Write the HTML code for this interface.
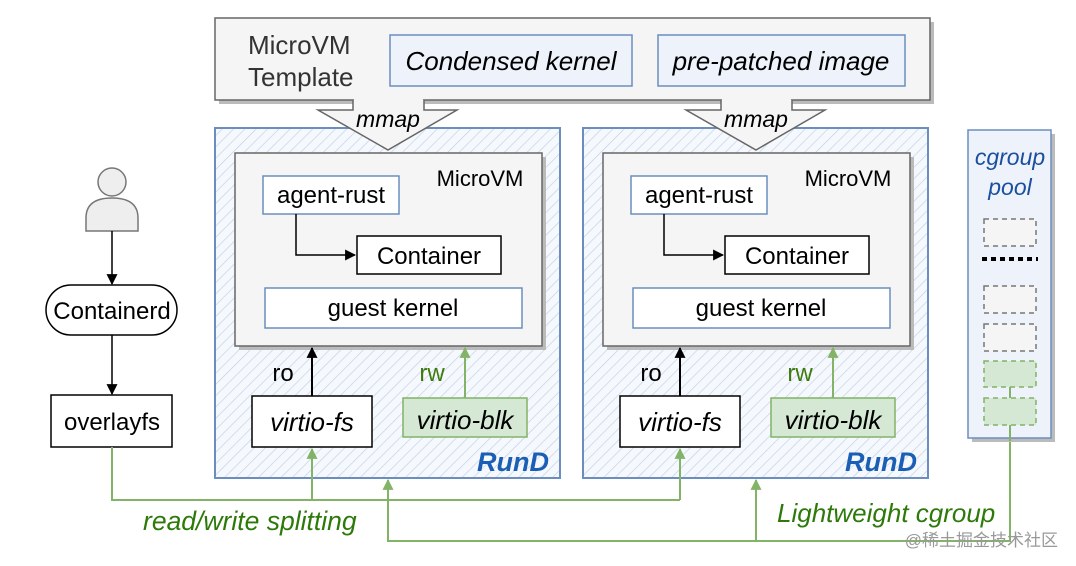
<!DOCTYPE html>
<html><head><meta charset="utf-8"><style>
html,body{margin:0;padding:0;background:#fff;}
svg{display:block;font-family:"Liberation Sans","Noto Sans CJK SC",sans-serif;}
</style></head><body>
<svg width="1076" height="566" viewBox="0 0 1076 566" xmlns="http://www.w3.org/2000/svg">
<defs>
<pattern id="h" width="8" height="8" patternUnits="userSpaceOnUse" patternTransform="rotate(45)">
<rect width="8" height="8" fill="#f5f8fd"/><line x1="0" y1="0" x2="0" y2="8" stroke="#c2d0e6" stroke-width="1.3"/></pattern>
<marker id="ab2" viewBox="0 0 10 10" refX="9" refY="5" markerWidth="11" markerHeight="11" markerUnits="userSpaceOnUse" orient="auto"><path d="M0,0L10,5L0,10z" fill="#000"/></marker>
<marker id="ag" viewBox="0 0 10 10" refX="9" refY="5" markerWidth="11" markerHeight="11" markerUnits="userSpaceOnUse" orient="auto"><path d="M0,0L10,5L0,10z" fill="#82b366"/></marker>
</defs>

<rect x="219" y="22" width="715" height="82" fill="#bbb"/>
<rect x="215" y="18" width="715" height="82" fill="#f5f5f5" stroke="#666" stroke-width="1.5"/>
<text x="248" y="54" font-size="26" fill="#333">MicroVM</text>
<text x="248" y="86" font-size="26" fill="#333">Template</text>
<rect x="390" y="35" width="242" height="51" fill="#eef3fb" stroke="#6c8ebf" stroke-width="1.5"/>
<text x="511" y="70" font-size="26" font-style="italic" text-anchor="middle">Condensed kernel</text>
<rect x="658" y="35" width="247" height="51" fill="#eef3fb" stroke="#6c8ebf" stroke-width="1.5"/>
<text x="781" y="70" font-size="26" font-style="italic" text-anchor="middle">pre-patched image</text>

<g id="r1">
<rect x="215" y="128" width="345" height="350" fill="url(#h)" stroke="#6c8ebf" stroke-width="2"/>
<rect x="239" y="157" width="307" height="193" fill="#bbb"/>
<rect x="235" y="153" width="307" height="193" fill="#f5f5f5" stroke="#666" stroke-width="1.5"/>
<text x="480" y="186" font-size="22" text-anchor="middle">MicroVM</text>
<rect x="263" y="176" width="136" height="38" fill="#fff" stroke="#6c8ebf" stroke-width="1.5"/>
<text x="331" y="203" font-size="24" text-anchor="middle">agent-rust</text>
<rect x="357" y="236" width="144" height="38" fill="#fff" stroke="#000" stroke-width="1.5"/>
<text x="429" y="264" font-size="24" text-anchor="middle">Container</text>
<path d="M296,214V255H355" fill="none" stroke="#000" stroke-width="1.5" marker-end="url(#ab2)"/>
<rect x="265" y="288" width="257" height="40" fill="#fff" stroke="#6c8ebf" stroke-width="1.5"/>
<text x="393" y="316" font-size="24" text-anchor="middle">guest kernel</text>
<line x1="312" y1="396" x2="312" y2="348" stroke="#000" stroke-width="2" marker-end="url(#ab2)"/>
<text x="283" y="381" font-size="24" text-anchor="middle">ro</text>
<rect x="252" y="396" width="120" height="51" fill="#fff" stroke="#000" stroke-width="1.5"/>
<text x="312" y="431" font-size="26" font-style="italic" text-anchor="middle">virtio-fs</text>
<line x1="465" y1="398" x2="465" y2="348" stroke="#82b366" stroke-width="2" marker-end="url(#ag)"/>
<text x="432" y="381" font-size="24" fill="#3f7a0f" text-anchor="middle">rw</text>
<rect x="403" y="398" width="124" height="39" fill="#d5e8d4" stroke="#82b366" stroke-width="1.5"/>
<text x="465" y="429" font-size="26" font-style="italic" text-anchor="middle">virtio-blk</text>
<text x="549" y="471" font-size="27" font-style="italic" font-weight="bold" fill="#1a5fb4" text-anchor="end">RunD</text>
</g>
<use href="#r1" transform="translate(368,0)"/>

<path d="M353,100V110H318L388,150L457,110H424V100" fill="#f5f5f5" stroke="#666" stroke-width="1.5"/>
<text x="388" y="127" font-size="23" font-style="italic" text-anchor="middle">mmap</text>
<path d="M721,100V110H686L756,150L825,110H792V100" fill="#f5f5f5" stroke="#666" stroke-width="1.5"/>
<text x="756" y="127" font-size="23" font-style="italic" text-anchor="middle">mmap</text>
<rect x="354" y="98" width="69" height="4" fill="#f5f5f5"/>
<rect x="722" y="98" width="69" height="4" fill="#f5f5f5"/>

<circle cx="112" cy="182" r="14" fill="#eee" stroke="#777" stroke-width="1.5"/>
<path d="M86,231V218Q86,198 112,198Q138,198 138,218V231Z" fill="#eee" stroke="#777" stroke-width="1.5"/>
<line x1="112" y1="231" x2="112" y2="284" stroke="#000" stroke-width="1.5" marker-end="url(#ab2)"/>
<rect x="46" y="285" width="131" height="50" rx="25" fill="#fff" stroke="#000" stroke-width="1.5"/>
<text x="112" y="319" font-size="24" text-anchor="middle">Containerd</text>
<line x1="112" y1="335" x2="112" y2="394" stroke="#000" stroke-width="1.5" marker-end="url(#ab2)"/>
<rect x="51" y="395" width="121" height="52" fill="#fff" stroke="#000" stroke-width="1.5"/>
<text x="112" y="430" font-size="24" text-anchor="middle">overlayfs</text>

<path d="M112,447V500H680" fill="none" stroke="#82b366" stroke-width="2"/>
<line x1="312" y1="500" x2="312" y2="449" stroke="#82b366" stroke-width="2" marker-end="url(#ag)"/>
<line x1="680" y1="500" x2="680" y2="449" stroke="#82b366" stroke-width="2" marker-end="url(#ag)"/>
<path d="M1010,412V541H388V480" fill="none" stroke="#82b366" stroke-width="2" marker-end="url(#ag)"/>
<line x1="756" y1="541" x2="756" y2="480" stroke="#82b366" stroke-width="2" marker-end="url(#ag)"/>
<text x="143" y="530" font-size="26.5" font-style="italic" fill="#2d7a0a">read/write splitting</text>
<text x="777" y="522" font-size="26" font-style="italic" fill="#2d7a0a">Lightweight cgroup</text>

<rect x="972" y="134" width="83" height="308" fill="#bbb"/>
<rect x="968" y="130" width="83" height="308" fill="#eef3fb" stroke="#6c8ebf" stroke-width="1.5"/>
<text x="1010" y="165" font-size="23" font-style="italic" fill="#1a4f9e" text-anchor="middle">cgroup</text>
<text x="1010" y="195" font-size="23" font-style="italic" fill="#1a4f9e" text-anchor="middle">pool</text>
<g fill="#f5f5f5" stroke="#777" stroke-width="1.5" stroke-dasharray="5,4">
<rect x="984" y="219" width="52" height="27"/>
<rect x="984" y="286" width="52" height="27"/>
<rect x="984" y="324" width="52" height="27"/>
</g>
<line x1="982" y1="259" x2="1038" y2="259" stroke="#000" stroke-width="4" stroke-dasharray="5,4"/>
<line x1="1010" y1="387" x2="1010" y2="398" stroke="#82b366" stroke-width="2"/>
<g fill="#d5e8d4" stroke="#82b366" stroke-width="1.5" stroke-dasharray="5,4">
<rect x="984" y="361" width="52" height="26"/>
<rect x="984" y="398" width="52" height="27"/>
</g>
<line x1="1010" y1="425" x2="1010" y2="441" stroke="#82b366" stroke-width="2"/>

<text x="1058" y="546" font-size="17" fill="#999" text-anchor="end">@稀土掘金技术社区</text>
</svg>
</body></html>
